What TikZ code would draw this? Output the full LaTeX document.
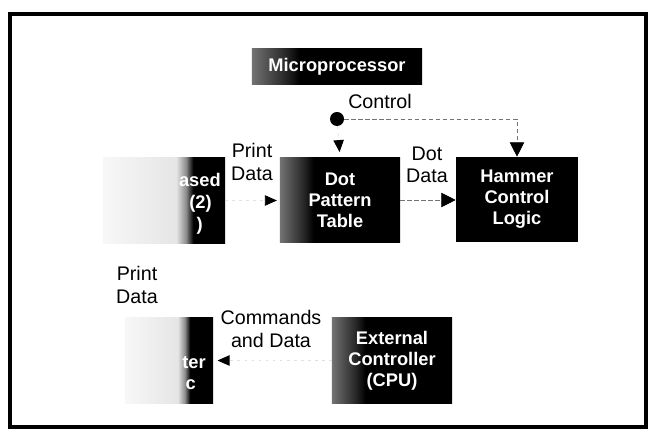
\documentclass[tikz,border=0pt]{standalone}
\usepackage{fontspec}
\setmainfont{Liberation Sans}
\usetikzlibrary{arrows.meta,positioning,calc}
% faded scan edges of the blocks
\pgfdeclarehorizontalshading{leftfade}{100bp}{color(0bp)=(white); color(25bp)=(black!3); color(55bp)=(black!10); color(59bp)=(black!45); color(62bp)=(black); color(100bp)=(black)}
\pgfdeclarehorizontalshading{rimfade}{100bp}{color(0bp)=(black!55); color(25bp)=(black!55); color(35bp)=(black!85); color(39bp)=(black); color(100bp)=(black)}

\begin{document}
\begin{tikzpicture}[x=0.025cm, y=-0.025cm,
    blockbox/.style={rectangle, text=white, align=center,
        font=\fontsize{13}{15}\selectfont\bfseries, inner sep=0pt,
        minimum width=3cm, minimum height=2.125cm},
    fragtext/.style={text=white, font=\fontsize{13}{15}\selectfont\bfseries,
        inner sep=0pt, anchor=east},
    lbl/.style={align=center, font=\fontsize{14}{16}\selectfont},
    dashline/.style={draw=black!55, dash pattern=on 3pt off 2pt, line width=0.6pt},
    faintline/.style={draw=black!12, dash pattern=on 2pt off 3pt, line width=0.6pt},
    bigtip/.tip={Triangle[length=3.6mm, width=3.6mm, color=black]},
    smalltip/.tip={Triangle[length=3mm, width=2.6mm, color=black]}
]
\useasboundingbox (0,0) rectangle (652,438);
\draw[line width=2.4pt] (10,14) rectangle (646,427);
\draw[line width=3.5pt] (10,14) -- (646,14);

\node[blockbox, shading=rimfade, minimum width=4.25cm, minimum height=0.9cm] (micro) at (337,67) {Microprocessor};
\node[circle, fill=black, minimum size=0.35cm, inner sep=0pt] (ctldot) at (337,119) {};
\node[lbl] (ctllbl) at (380,101) {Control};

\node[blockbox, shading=leftfade, minimum width=3.05cm] (bufupper) at (164,200.5) {};
\node[fragtext] (bufA) at (221,180) {ased};
\node[fragtext] (bufB) at (212,204) {(2)};
\node[fragtext] (bufC) at (203,226) {)};

\node[blockbox, shading=rimfade, minimum height=2.1cm] (dpt) at (340,200) {Dot\\Pattern\\Table};
\node[blockbox, fill=black, minimum width=3.05cm] (hammer) at (517,199.5) {Hammer\\Control\\Logic};

\node[blockbox, shading=leftfade, minimum width=2.2cm] (lowbox) at (169,360.5) {};
\node[fragtext] (lowA) at (206,363) {ter};
\node[fragtext] (lowB) at (196,385) {c};

\node[blockbox, shading=rimfade] (extctl) at (392,360.5) {External\\Controller\\(CPU)};

\node[lbl] (prtlbl) at (252,162) {Print\\Data};
\node[lbl] (dotlbl) at (427,165) {Dot\\Data};
\node[lbl] (prtlbl2) at (137,285) {Print\\Data};
\node[lbl] (cmdlbl) at (271,329) {Commands\\and Data};

\draw[faintline, -{smalltip}, shorten >=4pt] (ctldot) -- (dpt.north);
\draw[dashline, -{bigtip}] (ctldot) -| (hammer.north);
\draw[faintline, -{smalltip}, shorten >=2pt] (bufupper.east) -- (bufupper.east -| dpt.west);
\draw[dashline, -{bigtip}] (dpt.east) -- (dpt.east -| hammer.west);
\draw[faintline, -{smalltip}, shorten >=3pt] (extctl.west) -- (extctl.west -| lowbox.east);
\end{tikzpicture}
\end{document}
